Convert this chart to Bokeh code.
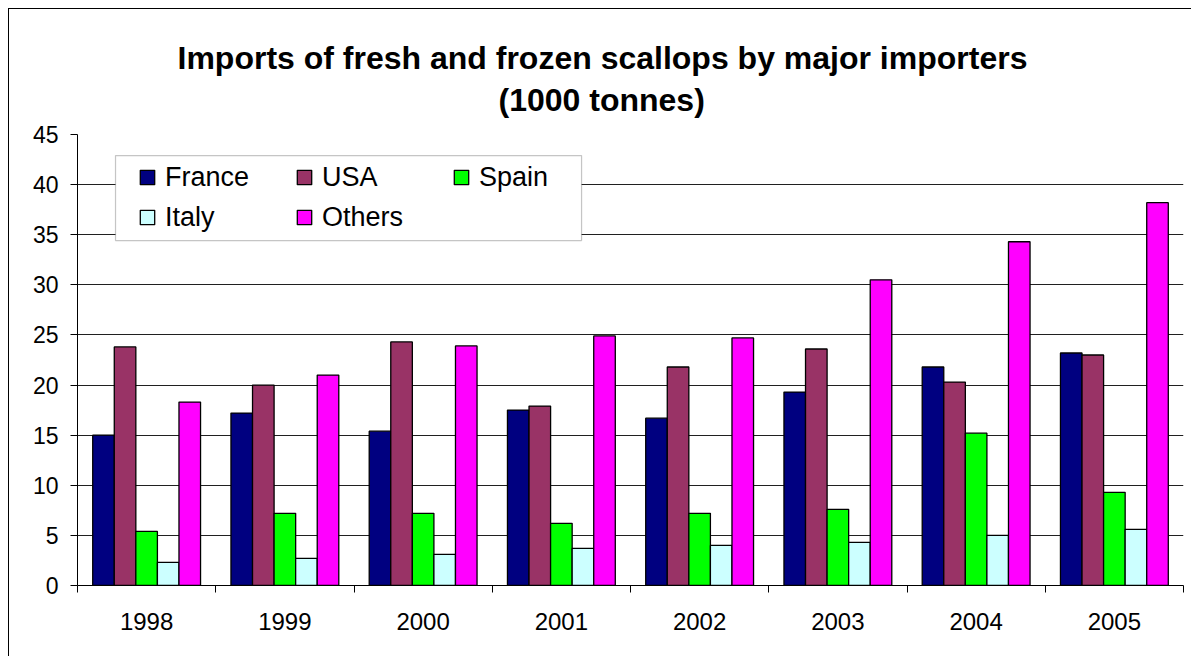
from bokeh.plotting import figure
from bokeh.models import (Range1d, FixedTicker, Legend, LegendItem, BoxAnnotation,
                          Title, ColumnDataSource)
from bokeh.transform import dodge
from bokeh.embed import file_html
from bokeh.resources import INLINE

# ---------------- data ----------------
years = ["1998", "1999", "2000", "2001", "2002", "2003", "2004", "2005"]
france = [15.0, 17.2, 15.4, 17.5, 16.7, 19.3, 21.8, 23.2]
usa = [23.8, 20.0, 24.3, 17.9, 21.8, 23.6, 20.3, 23.0]
spain = [5.4, 7.2, 7.2, 6.2, 7.2, 7.6, 15.2, 9.3]
italy = [2.3, 2.7, 3.1, 3.7, 4.0, 4.3, 5.0, 5.6]
others = [18.3, 21.0, 23.9, 24.9, 24.7, 30.5, 34.3, 38.2]
series_names = ["France", "USA", "Spain", "Italy", "Others"]
y_ticks = [0, 5, 10, 15, 20, 25, 30, 35, 40, 45]
title_lines = ["Imports of fresh and frozen scallops by major importers", "(1000 tonnes)"]

# ---------------- style ----------------
colors = ["#000080", "#993366", "#00FF00", "#CCFFFF", "#FF00FF"]
FONT = "Liberation Sans"
BAR_W = 0.156
offsets = [-2 * BAR_W, -BAR_W, 0.0, BAR_W, 2 * BAR_W]

src = ColumnDataSource(dict(
    x=list(range(len(years))),
    France=france, USA=usa, Spain=spain, Italy=italy, Others=others,
))

p = figure(width=1183, height=648,
           x_range=Range1d(-0.5, len(years) - 0.5), y_range=Range1d(0, 45),
           output_backend="svg", toolbar_location=None,
           min_border_left=68, min_border_right=9,
           min_border_top=125, min_border_bottom=72)
p.margin = (8, 0, 0, 8)
p.styles = {"border-left": "1px solid black", "border-top": "1px solid black"}
p.outline_line_color = None
p.background_fill_color = "white"
p.border_fill_color = "white"

# grid
p.xgrid.visible = False
p.ygrid.ticker = FixedTicker(ticks=y_ticks)
p.ygrid.grid_line_color = "#202020"
p.ygrid.grid_line_width = 1

# bars
renderers = []
for name, col, off in zip(series_names, colors, offsets):
    r = p.vbar(x=dodge("x", off, range=p.x_range), top=name, width=BAR_W,
               source=src, fill_color=col, line_color="black", line_width=1.3)
    renderers.append(r)

# x axis
xa = p.xaxis[0]
xa.ticker = FixedTicker(ticks=list(range(len(years))),
                        minor_ticks=[i - 0.5 for i in range(len(years) + 1)])
xa.major_label_overrides = {i: y for i, y in enumerate(years)}
xa.major_tick_out = 0
xa.major_tick_in = 0
xa.minor_tick_out = 7
xa.minor_tick_in = 0
xa.minor_tick_line_color = "black"
xa.axis_line_color = "black"
xa.major_label_text_font = FONT
xa.major_label_text_font_size = "24px"
xa.major_label_text_color = "black"
xa.major_label_standoff = 20

# y axis
ya = p.yaxis[0]
ya.ticker = FixedTicker(ticks=y_ticks)
ya.major_tick_out = 7
ya.major_tick_in = 0
ya.minor_tick_line_color = None
ya.major_tick_line_color = "black"
ya.axis_line_color = "black"
ya.major_label_text_font = FONT
ya.major_label_text_font_size = "23px"
ya.major_label_text_color = "black"
ya.major_label_standoff = 12

# legend frame
box = BoxAnnotation(left=-0.225, right=3.146, top=42.9, bottom=34.42,
                    fill_color="white", fill_alpha=1.0,
                    line_color="#404040", line_width=1.2)
p.add_layout(box)

legend = Legend(items=[LegendItem(label=n, renderers=[r]) for n, r in zip(series_names, renderers)],
                location=(61, 348), orientation="horizontal", ncols=3,
                border_line_color=None, background_fill_alpha=0,
                padding=0, spacing=0, margin=0,
                glyph_width=18, glyph_height=18, label_standoff=9,
                label_width=130, label_height=40,
                label_text_font=FONT, label_text_font_size="27px",
                label_text_color="black")
p.add_layout(legend, "center")

# title: spacer closest to frame, then second line, then first line
p.add_layout(Title(text=" ", text_font_size="1px", standoff=11), "above")
p.add_layout(Title(text=title_lines[1], align="left", offset=421, vertical_align="middle",
                   standoff=4, text_font=FONT, text_font_size="32px",
                   text_font_style="bold", text_color="black"), "above")
p.add_layout(Title(text=title_lines[0], align="left", offset=100, vertical_align="middle",
                   standoff=4, text_font=FONT, text_font_size="32px",
                   text_font_style="bold", text_color="black"), "above")

open("out.html", "w").write(file_html(p, INLINE))
